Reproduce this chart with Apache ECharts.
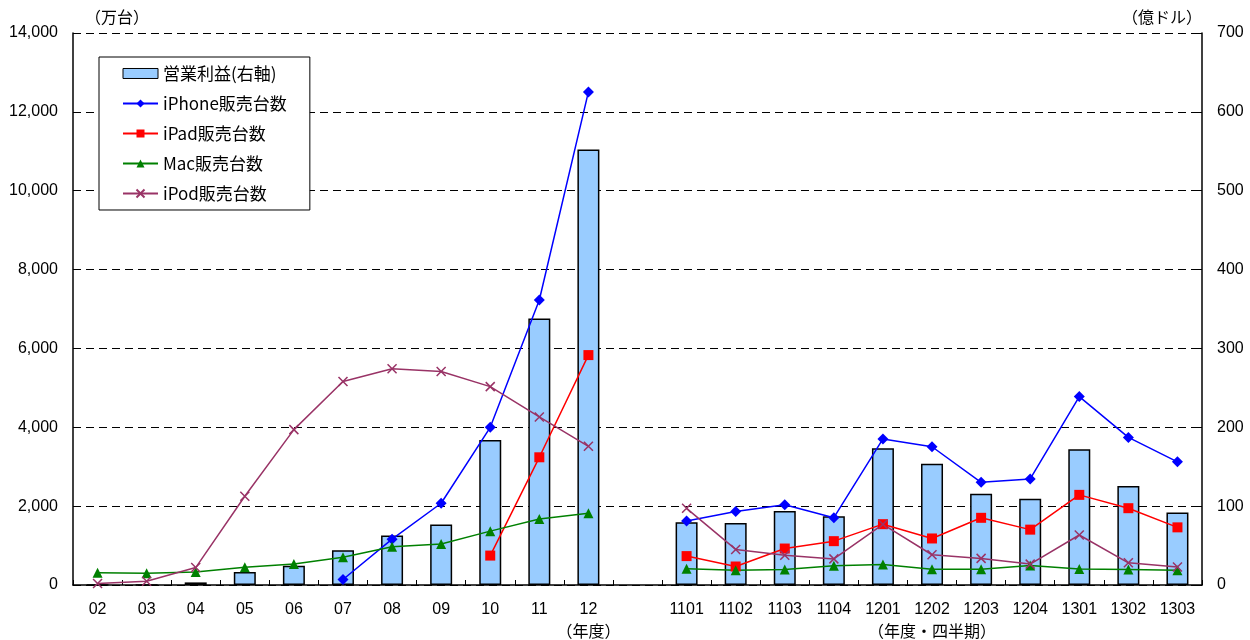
<!DOCTYPE html>
<html lang="ja">
  <head>
    <meta charset="UTF-8" />
    <title>Apple</title>
    <style>
      html, body { margin: 0; padding: 0; background: #fff; }
      #main { width: 1250px; height: 640px; }
    </style>
  </head>
  <body>
    <div id="main"></div>
    <script src="https://cdn.jsdelivr.net/npm/echarts@6/dist/echarts.min.js"></script>
    <script>
      // 年度 + 空き + 四半期
      var categories = ["02", "03", "04", "05", "06", "07", "08", "09", "10", "11", "12", "",
        "1101", "1102", "1103", "1104", "1201", "1202", "1203", "1204", "1301", "1302", "1303"];
      var xNotes = { "12": "（年度）", "1202": "（年度・四半期）" };

      // 営業利益（億ドル, 右軸）
      var profit = [0.2, 0, 3.3, 16.4, 24.5, 44.1, 62.8, 76.6, 183.9, 337.9, 552.4, null,
        79.6, 78.7, 93.8, 87.1, 173.4, 153.8, 115.7, 109.4, 172.1, 125.6, 92.0];
      // 販売台数（万台）
      var iphone = [null, null, null, null, null, 139, 1163, 2073, 3999, 7229, 12505, null,
        1624, 1865, 2034, 1707, 3704, 3506, 2603, 2691, 4779, 3743, 3124];
      var ipad = [null, null, null, null, null, null, null, null, 746, 3239, 5831, null,
        733, 469, 925, 1112, 1543, 1180, 1704, 1404, 2286, 1948, 1462];
      var mac = [310, 301, 329, 453, 530, 705, 972, 1040, 1366, 1674, 1822, null,
        413, 376, 395, 489, 520, 402, 402, 492, 406, 395, 375];
      var ipod = [38, 94, 442, 2250, 3941, 5163, 5483, 5413, 5031, 4262, 3517, null,
        1945, 902, 754, 662, 1540, 767, 675, 530, 1268, 563, 457];

      var leftTicks = { min: 0, max: 14000, interval: 2000 };
      var rightTicks = { min: 0, max: 700, interval: 100 };

      var font = "'Noto Sans CJK JP', 'Liberation Sans', sans-serif";
      var numFont = "'Liberation Sans', Arial, sans-serif";

      var myChart = echarts.init(document.getElementById("main"));

      function lineSeries(name, data, color, symbol, size) {
        return {
          name: name,
          type: "line",
          yAxisIndex: 0,
          data: data,
          symbol: symbol,
          symbolSize: size,
          connectNulls: false,
          lineStyle: { color: color, width: 1.5 },
          itemStyle: { color: color, borderColor: color, borderWidth: 0 }
        };
      }

      var crossPath = "path://M0,0L10,10M10,0L0,10";
      var ipodSeries = lineSeries("iPod販売台数", ipod, "#993366", crossPath, 9);
      ipodSeries.itemStyle = { color: "#993366", borderColor: "#993366", borderWidth: 1.5 };

      var option = {
        animation: false,
        textStyle: { fontFamily: font, color: "#000" },
        grid: { left: 73, right: 48, top: 33, bottom: 55, outerBoundsMode: "none", containLabel: false },
        legend: {
          orient: "vertical",
          left: 99,
          top: 57,
          padding: [8, 23, 8, 23],
          itemGap: 13,
          itemWidth: 35,
          itemHeight: 10,
          backgroundColor: "#fff",
          borderColor: "#000",
          borderWidth: 1,
          borderRadius: 0,
          textStyle: { fontFamily: font, fontSize: 17, color: "#000" },
          data: [
            { name: "営業利益(右軸)", icon: "rect",
              itemStyle: { color: "#99CCFF", borderColor: "#000", borderWidth: 1 } },
            "iPhone販売台数", "iPad販売台数", "Mac販売台数", "iPod販売台数"
          ]
        },
        xAxis: {
          type: "category",
          data: categories,
          boundaryGap: true,
          axisLine: { lineStyle: { color: "#000", width: 1.5 } },
          axisTick: { show: true, inside: true, interval: 0, length: 5, lineStyle: { color: "#000" } },
          axisLabel: {
            interval: 0,
            margin: 14,
            fontFamily: numFont,
            fontSize: 16,
            color: "#000",
            lineHeight: 21,
            formatter: function (v) {
              return xNotes[v] ? v + "\n{n|" + xNotes[v] + "}" : v;
            },
            rich: { n: { fontFamily: font, fontSize: 16, color: "#000", lineHeight: 21 } }
          },
          splitLine: { show: false }
        },
        yAxis: [
          {
            type: "value",
            min: leftTicks.min,
            max: leftTicks.max,
            interval: leftTicks.interval,
            name: "（万台）",
            nameLocation: "end",
            nameGap: 8,
            nameTextStyle: { fontFamily: font, fontSize: 16, color: "#000", align: "left", padding: [0, 0, 0, 12] },
            axisLine: { show: true, lineStyle: { color: "#000", width: 1.5 } },
            axisTick: { show: true, inside: true, length: 5, lineStyle: { color: "#000" } },
            axisLabel: {
              fontFamily: numFont,
              fontSize: 16,
              color: "#000",
              margin: 15,
              formatter: function (v) { return v.toLocaleString("en-US"); }
            },
            splitLine: { show: true, lineStyle: { color: "#000", type: [8, 5], width: 1 } }
          },
          {
            type: "value",
            min: rightTicks.min,
            max: rightTicks.max,
            interval: rightTicks.interval,
            name: "（億ドル）",
            nameLocation: "end",
            nameGap: 8,
            nameTextStyle: { fontFamily: font, fontSize: 16, color: "#000", align: "right" },
            axisLine: { show: true, lineStyle: { color: "#000", width: 1.5 } },
            axisTick: { show: true, inside: true, length: 5, lineStyle: { color: "#000" } },
            axisLabel: { fontFamily: numFont, fontSize: 16, color: "#000", margin: 15 },
            splitLine: { show: false }
          }
        ],
        series: [
          {
            name: "営業利益(右軸)",
            type: "bar",
            yAxisIndex: 1,
            data: profit,
            barWidth: 22,
            itemStyle: { color: "#99CCFF", borderColor: "#000", borderWidth: 1.5 }
          },
          lineSeries("iPhone販売台数", iphone, "#0000FF", "diamond", 11),
          lineSeries("iPad販売台数", ipad, "#FF0000", "rect", 10),
          lineSeries("Mac販売台数", mac, "#008000", "triangle", 10),
          ipodSeries
        ]
      };
      myChart.setOption(option);
    </script>
  </body>
</html>
